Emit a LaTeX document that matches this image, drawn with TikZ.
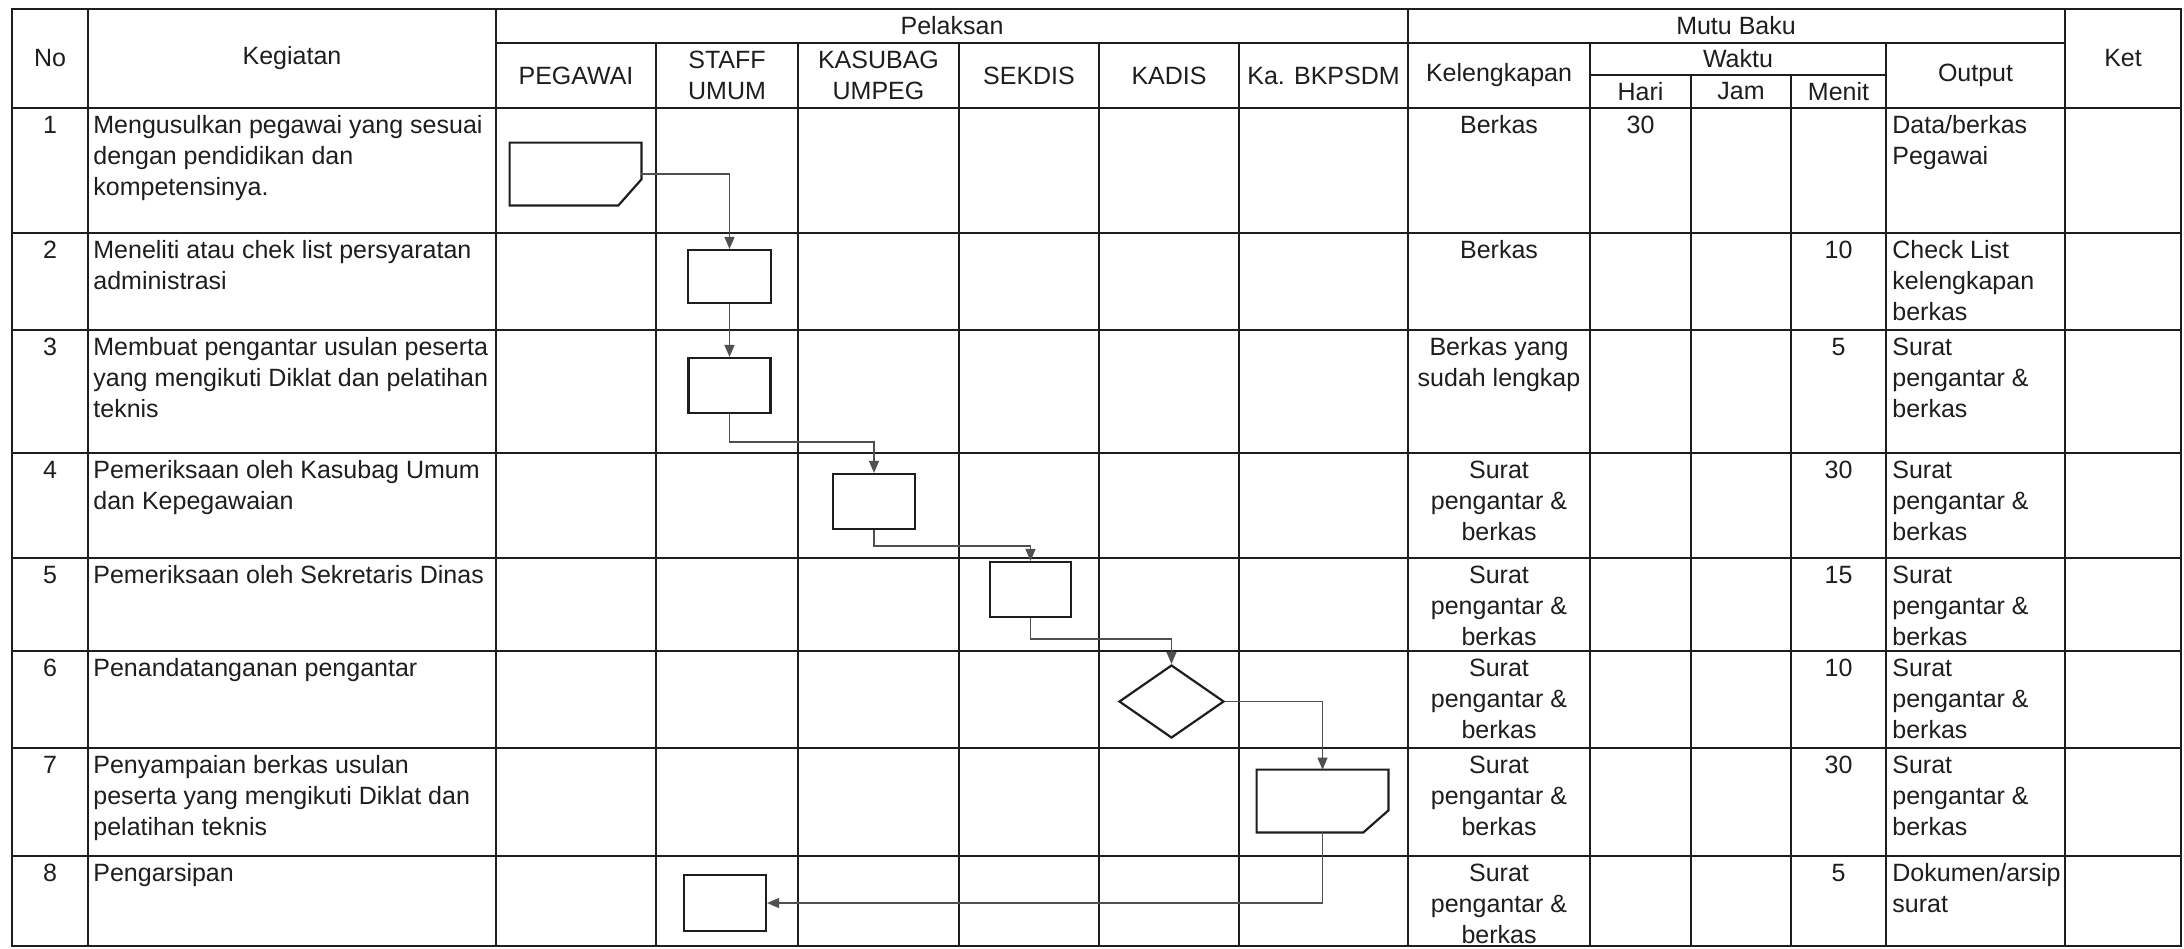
\documentclass[tikz,border=0pt]{standalone}
\usepackage{fontspec}
\setmainfont{Liberation Sans}
\usetikzlibrary{arrows.meta,calc,shapes.geometric}
\definecolor{ink}{HTML}{1E1E1E}
\definecolor{conn}{HTML}{505050}
\newcommand{\myst}{\rule{0pt}{10pt}}
\begin{document}
\begin{tikzpicture}[x=0.5pt,y=-0.5pt,
  grid/.style={draw=ink,line width=1.2pt,line cap=rect},
  txt/.style={font=\fontsize{12.5}{15.4}\selectfont,text=ink,inner sep=0pt},
  hd/.style={txt,align=center,anchor=center},
  lt/.style={txt,align=left,anchor=north west},
  ct/.style={txt,align=center,anchor=north},
  num/.style={txt,anchor=base},
  shp/.style={draw=ink,line width=1.1pt},
  boxnode/.style={shp,rectangle,inner sep=0pt},
  docnode/.style={rectangle,inner sep=0pt,minimum width=65.5pt,minimum height=31pt},
  decnode/.style={shp,diamond,inner sep=0pt,minimum width=52.5pt,minimum height=36.5pt},
  flow/.style={draw=conn,line width=0.65pt,-{Triangle[length=6pt,width=5pt]}}
]
\fill[white] (0,0) rectangle (2184,948);
\useasboundingbox (0,0) rectangle (2184,948);

% ---------- grid ----------
\draw[grid] (12,9) -- (2181,9);
\draw[grid] (496,43) -- (2065,43);
\draw[grid] (1590,75) -- (1886,75);
\foreach \y in {108,233,330,453,558,651,748,856,946} \draw[grid] (12,\y) -- (2181,\y);
\foreach \x in {12,88,496,1408,2065,2181} \draw[grid] (\x,9) -- (\x,946);
\foreach \x in {656,798,959,1099,1239,1590,1886} \draw[grid] (\x,43) -- (\x,946);
\foreach \x in {1691,1791} \draw[grid] (\x,75) -- (\x,946);

% ---------- header ----------
\node[hd] (hNo) at (50,58) {No};
\node[hd] (hKeg) at (292,58) {Kegiatan};
\node[hd] (hPel) at (952,26) {Pelaksan};
\node[hd] (hMutu) at (1736,26) {Mutu Baku};
\node[hd] (hKet) at (2123,58) {Ket};
\node[hd] (hPeg) at (576,75.5) {PEGAWAI};
\node[hd] (hStaff) at (727,75.5) {STAFF\\UMUM};
\node[hd] (hKas) at (878.5,75.5) {KASUBAG\\UMPEG};
\node[hd] (hSek) at (1029,75.5) {SEKDIS};
\node[hd] (hKad) at (1169,75.5) {KADIS};
\node[hd] (hBk) at (1323.5,75.5) {Ka. BKPSDM};
\node[hd] (hKel) at (1499,75.5) {Kelengkapan};
\node[hd] (hWak) at (1738,59) {Waktu};
\node[hd] (hHari) at (1640.5,91.5) {Hari};
\node[hd] (hJam) at (1741,91.5) {Jam};
\node[hd] (hMen) at (1838.5,91.5) {Menit};
\node[hd] (hOut) at (1975.5,75.5) {Output};

% ---------- row 1 ----------
\node[num] (n1) at (50,133) {1};
\node[lt] (k1) at (93,113) {\myst Mengusulkan pegawai yang sesuai\\dengan pendidikan dan\\kompetensinya.};
\node[ct] (kl1) at (1499,113) {\myst Berkas};
\node[num] (ha1) at (1640.5,133) {30};
\node[lt] (o1) at (1892,113) {\myst Data/berkas\\Pegawai};
% ---------- row 2 ----------
\node[num] (n2) at (50,258) {2};
\node[lt] (k2) at (93,238) {\myst Meneliti atau chek list persyaratan\\administrasi};
\node[ct] (kl2) at (1499,238) {\myst Berkas};
\node[num] (m2) at (1838.5,258) {10};
\node[lt] (o2) at (1892,238) {\myst Check List\\kelengkapan\\berkas};
% ---------- row 3 ----------
\node[num] (n3) at (50,355) {3};
\node[lt] (k3) at (93,335) {\myst Membuat pengantar usulan peserta\\yang mengikuti Diklat dan pelatihan\\teknis};
\node[ct] (kl3) at (1499,335) {\myst Berkas yang\\sudah lengkap};
\node[num] (m3) at (1838.5,355) {5};
\node[lt] (o3) at (1892,335) {\myst Surat\\pengantar \&\\berkas};
% ---------- row 4 ----------
\node[num] (n4) at (50,478) {4};
\node[lt] (k4) at (93,458) {\myst Pemeriksaan oleh Kasubag Umum\\dan Kepegawaian};
\node[ct] (kl4) at (1499,458) {\myst Surat\\pengantar \&\\berkas};
\node[num] (m4) at (1838.5,478) {30};
\node[lt] (o4) at (1892,458) {\myst Surat\\pengantar \&\\berkas};
% ---------- row 5 ----------
\node[num] (n5) at (50,583) {5};
\node[lt] (k5) at (93,563) {\myst Pemeriksaan oleh Sekretaris Dinas};
\node[ct] (kl5) at (1499,563) {\myst Surat\\pengantar \&\\berkas};
\node[num] (m5) at (1838.5,583) {15};
\node[lt] (o5) at (1892,563) {\myst Surat\\pengantar \&\\berkas};
% ---------- row 6 ----------
\node[num] (n6) at (50,676) {6};
\node[lt] (k6) at (93,656) {\myst Penandatanganan pengantar};
\node[ct] (kl6) at (1499,656) {\myst Surat\\pengantar \&\\berkas};
\node[num] (m6) at (1838.5,676) {10};
\node[lt] (o6) at (1892,656) {\myst Surat\\pengantar \&\\berkas};
% ---------- row 7 ----------
\node[num] (n7) at (50,773) {7};
\node[lt] (k7) at (93,753) {\myst Penyampaian berkas usulan\\peserta yang mengikuti Diklat dan\\pelatihan teknis};
\node[ct] (kl7) at (1499,753) {\myst Surat\\pengantar \&\\berkas};
\node[num] (m7) at (1838.5,773) {30};
\node[lt] (o7) at (1892,753) {\myst Surat\\pengantar \&\\berkas};
% ---------- row 8 ----------
\node[num] (n8) at (50,881) {8};
\node[lt] (k8) at (93,861) {\myst Pengarsipan};
\node[ct] (kl8) at (1499,861) {\myst Surat\\pengantar \&\\berkas};
\node[num] (m8) at (1838.5,881) {5};
\node[lt] (o8) at (1892,861) {\myst Dokumen/arsip\\surat};

% ---------- flow shapes ----------
\node[docnode] (s1) at (575.5,174) {};
\draw[shp] (s1.north west) -- (s1.north east) -- ($(s1.south east)+(0,-26)$) -- ($(s1.south east)+(-23,0)$) -- (s1.south west) -- cycle;
\node[boxnode,minimum width=41.5pt,minimum height=26.5pt] (s2) at (729.5,276.5) {};
\node[boxnode,minimum width=41pt,minimum height=27.5pt] (s3) at (729.5,385.5) {};
\node[boxnode,minimum width=41pt,minimum height=27.5pt] (s4) at (874,501.5) {};
\node[boxnode,minimum width=40.5pt,minimum height=27.5pt] (s5) at (1030.5,589.5) {};
\node[decnode] (s6) at (1171.5,701.5) {};
\node[docnode] (s7) at (1322.5,801) {};
\draw[shp] (s7.north west) -- (s7.north east) -- ($(s7.south east)+(0,-22)$) -- ($(s7.south east)+(-25,0)$) -- (s7.south west) -- cycle;
\node[boxnode,minimum width=41pt,minimum height=28pt] (s8) at (725,903) {};

% ---------- connectors ----------
\draw[flow] (s1.east) -| (s2.north);
\draw[flow] (s2.south) -- (s3.north);
\draw[flow] (s3.south) |- ($(s4.north)+(0,-31)$) -- (s4.north);
\draw[flow] (s4.south) |- ($(s5.north)+(0,-15)$) -- (s5.north);
\draw[flow] (s5.south) |- ($(s6.north)+(0,-25)$) -- (s6.north);
\draw[flow] (s6.east) -| (s7.north);
\draw[flow] (s7.south) |- (s8.east);
\end{tikzpicture}
\end{document}
